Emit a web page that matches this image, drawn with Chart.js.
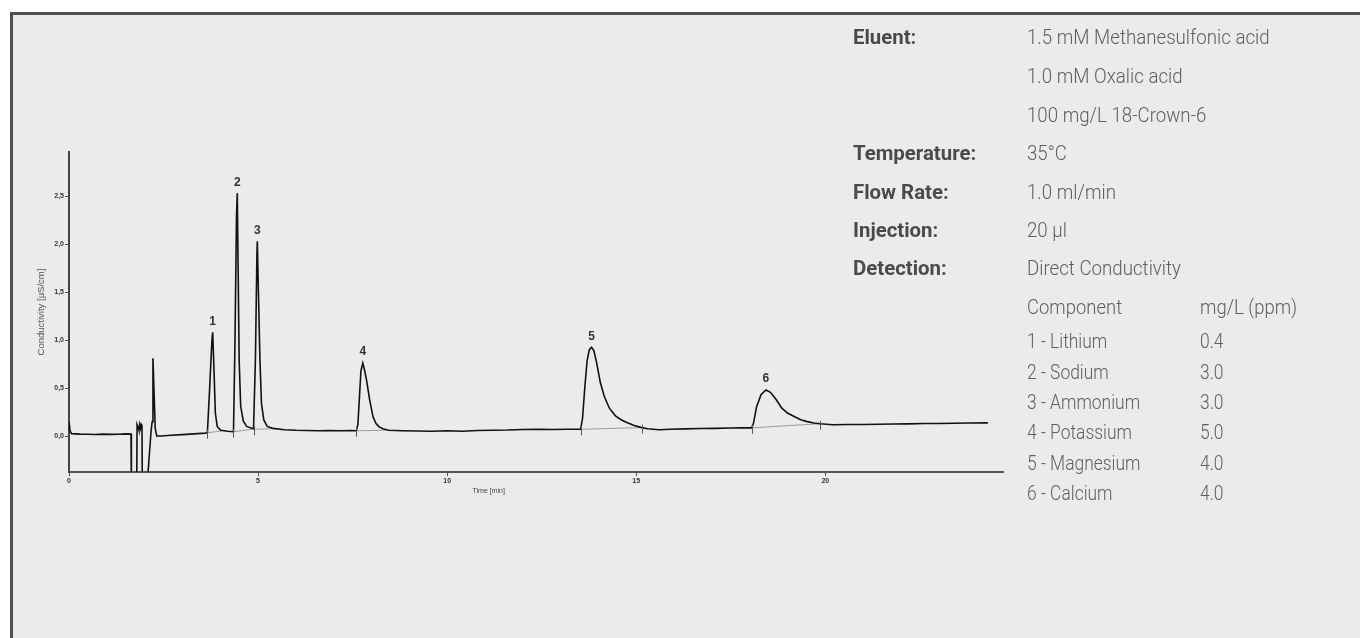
<!DOCTYPE html>
<html><head><meta charset="utf-8">
<script src="https://cdn.jsdelivr.net/npm/chart.js@4"></script>
<style>
html,body{margin:0;padding:0;background:#fff;width:1360px;height:638px;overflow:hidden;}
#panel{position:absolute;left:10px;top:12px;width:1350px;height:626px;background:#ebebed;border-top:3px solid #505050;border-left:3px solid #505050;box-sizing:border-box;}
#c{position:absolute;left:0;top:0;}
.t{position:absolute;font-family:Roboto,"Liberation Sans",sans-serif;font-size:21px;line-height:21px;white-space:nowrap;transform-origin:0 50%;}
.lab{font-weight:700;color:#4a4a4a;transform:scaleX(0.97);}
.val{font-weight:300;color:#5e5e5e;transform:scaleX(0.89);}
.hdr{font-weight:300;color:#5e5e5e;transform:scaleX(0.88);}
.row{font-weight:300;color:#5e5e5e;font-size:20px;line-height:20px;transform:scaleX(0.87);}
</style></head>
<body>
<div id="panel"></div>
<canvas id="c" width="1360" height="638"></canvas>
<div id="txt"></div>
<script>
// ---- data ----
const chromatogram = [
 [0.00,0.15],[0.03,0.05],[0.07,0.025],[0.30,0.02],[0.50,0.018],[0.70,0.016],[0.90,0.02],[1.10,0.017],[1.30,0.019],[1.50,0.022],[1.64,0.02],[1.65,-0.6],
 [1.79,-0.6],[1.80,0.12],[1.83,0.09],[1.85,0.06],[1.87,0.12],[1.89,0.08],[1.91,0.12],[1.93,0.10],[1.94,-0.6],
 [2.05,-0.6],[2.17,0.05],[2.20,0.15],[2.22,0.81],[2.25,0.45],[2.28,0.08],[2.32,0.0],[2.45,0.0],[2.70,0.008],[3.00,0.015],[3.30,0.022],[3.60,0.03],
 [3.66,0.035],[3.72,0.5],[3.78,1.0],[3.80,1.08],[3.84,0.62],[3.87,0.24],[3.92,0.10],[4.01,0.06],[4.20,0.05],[4.35,0.045],
 [4.39,1.0],[4.43,2.3],[4.45,2.53],[4.47,1.83],[4.50,0.79],[4.54,0.31],[4.61,0.155],[4.70,0.10],[4.83,0.08],
 [4.88,0.075],[4.93,0.8],[4.97,1.9],[4.98,2.03],[5.01,1.49],[5.05,0.79],[5.09,0.34],[5.15,0.17],[5.24,0.10],[5.39,0.08],
 [5.70,0.065],[6.00,0.06],[6.30,0.058],[6.60,0.055],[6.90,0.057],[7.20,0.055],[7.45,0.056],[7.60,0.055],
 [7.64,0.12],[7.68,0.4],[7.72,0.68],[7.77,0.76],[7.82,0.68],[7.87,0.58],[7.95,0.38],[8.04,0.20],[8.12,0.13],[8.20,0.095],[8.30,0.075],[8.45,0.06],
 [8.80,0.055],[9.20,0.052],[9.60,0.05],[10.00,0.055],[10.40,0.05],[10.80,0.058],[11.20,0.06],[11.60,0.062],[12.00,0.068],[12.40,0.07],[12.80,0.068],[13.20,0.07],[13.53,0.07],
 [13.58,0.18],[13.64,0.5],[13.70,0.78],[13.76,0.9],[13.82,0.925],[13.88,0.89],[13.95,0.77],[14.05,0.56],[14.15,0.42],[14.29,0.29],[14.45,0.21],[14.60,0.17],[14.75,0.14],[14.95,0.11],[15.12,0.09],[15.30,0.075],
 [15.60,0.065],[15.90,0.07],[16.30,0.074],[16.70,0.078],[17.10,0.08],[17.50,0.083],[17.80,0.085],[18.05,0.085],
 [18.10,0.13],[18.18,0.3],[18.30,0.43],[18.43,0.48],[18.55,0.455],[18.70,0.38],[18.85,0.29],[19.00,0.24],[19.19,0.2],[19.35,0.17],[19.52,0.15],[19.70,0.135],[19.86,0.128],
 [20.20,0.118],[20.60,0.12],[21.00,0.12],[21.40,0.123],[21.80,0.125],[22.20,0.127],[22.60,0.13],[23.00,0.131],[23.40,0.133],[23.80,0.135],[24.30,0.137]
];
const integrationBaselines = [
 [[3.66,0.035],[4.02,0.05]],
 [[4.35,0.045],[4.85,0.07]],
 [[4.88,0.07],[5.35,0.075]],
 [[7.60,0.055],[8.40,0.06]],
 [[13.53,0.07],[15.15,0.088]],
 [[18.05,0.085],[19.86,0.128]]
];
const integrationMarks = [[3.66,0.035],[4.35,0.045],[4.88,0.07],[7.60,0.055],[13.53,0.07],[15.15,0.088],[18.05,0.085],[19.86,0.128]];
const peakLabels = ["1","2","3","4","5","6"];
const peakTimes = [3.80,4.45,4.98,7.77,13.82,18.43];
const peakHeights = [1.08,2.53,2.03,0.76,0.925,0.48];
const xTicks = [0,5,10,15,20];
const xTickLabels = ["0","5","10","15","20"];
const yTicks = [0,0.5,1,1.5,2,2.5];
const yTickLabels = ["0,0","0,5","1,0","1,5","2,0","2,5"];
const xTitle = "Time [min]";
const yTitle = "Conductivity [µS/cm]";

const conditionLabels = ["Eluent:","","","Temperature:","Flow Rate:","Injection:","Detection:"];
const conditionValues = ["1.5 mM Methanesulfonic acid","1.0 mM Oxalic acid","100 mg/L 18-Crown-6","35°C","1.0 ml/min","20 µl","Direct Conductivity"];
const tableHeader = ["Component","mg/L (ppm)"];
const components = ["1 - Lithium","2 - Sodium","3 - Ammonium","4 - Potassium","5 - Magnesium","6 - Calcium"];
const concentrations = ["0.4","3.0","3.0","5.0","4.0","4.0"];

// ---- text panel ----
const txt = document.getElementById('txt');
function addText(s, x, baseline, cls, asc){
  const d = document.createElement('div');
  d.className = 't ' + cls; d.textContent = s;
  d.style.left = x + 'px'; d.style.top = (baseline - asc) + 'px';
  txt.appendChild(d);
}
const condBase = [45,83.3,122.3,161,199.3,237.7,276];
conditionLabels.forEach((s,i)=>{ if(s) addText(s,852.7,condBase[i],'lab',17.7); });
conditionValues.forEach((s,i)=>addText(s,1026.7,condBase[i],'val',17.7));
addText(tableHeader[0],1026.7,314.3,'hdr',17.7);
addText(tableHeader[1],1200,314.3,'hdr',17.7);
components.forEach((s,i)=>{
  const b = 348.3 + i*30.3;
  addText(s,1026.7,b,'row',16.9);
  addText(concentrations[i],1200,b,'row',16.9);
});

// ---- chart ----
const baselineData = [];
integrationBaselines.forEach(seg=>{ seg.forEach(p=>baselineData.push({x:p[0],y:p[1]})); baselineData.push({x:seg[1][0]+0.001,y:null}); });

const overlay = {
  id:'overlay',
  afterDatasetsDraw(chart){
    const {ctx, scales:{x,y}} = chart;
    ctx.save();
    ctx.strokeStyle = '#555'; ctx.lineWidth = 1;
    integrationMarks.forEach(m=>{
      const px = Math.round(x.getPixelForValue(m[0]))+0.5, py = y.getPixelForValue(m[1]);
      ctx.beginPath(); ctx.moveTo(px,py-3); ctx.lineTo(px,py+6); ctx.stroke();
    });
    ctx.fillStyle = '#333'; ctx.font = 'bold 12px "Liberation Sans", Arial, sans-serif';
    ctx.textAlign = 'center'; ctx.textBaseline = 'middle';
    peakLabels.forEach((l,i)=>{
      ctx.fillText(l, x.getPixelForValue(peakTimes[i]), y.getPixelForValue(peakHeights[i]) - 11);
    });
    ctx.fillStyle = '#444'; ctx.font = '7px "Liberation Sans", Arial, sans-serif';
    ctx.fillText(xTitle, x.getPixelForValue(11.1), y.bottom + 19);
    ctx.restore();
  }
};

new Chart(document.getElementById('c'), {
  type:'line',
  data:{datasets:[
    {data:chromatogram.map(p=>({x:p[0],y:p[1]})), borderColor:'#111', borderWidth:1.6, pointRadius:0, tension:0, order:0},
    {data:baselineData, borderColor:'#8a8a8a', borderWidth:0.8, pointRadius:0, tension:0, spanGaps:false, order:1}
  ]},
  options:{
    responsive:false, animation:false, devicePixelRatio:1,
    layout:{padding:{left:0,top:152,right:357,bottom:136}},
    plugins:{legend:{display:false},tooltip:{enabled:false}},
    scales:{
      x:{type:'linear',min:0,max:24.7,
        afterBuildTicks:s=>{s.ticks = xTicks.map(v=>({value:v}));},
        afterFit:s=>{s.height=30;},
        grid:{display:true,drawOnChartArea:false,drawTicks:true,tickLength:4,color:'#555',lineWidth:1},
        border:{display:true,color:'#555',width:2},
        ticks:{font:{family:'"Liberation Sans", Arial',size:7,weight:'bold'},color:'#333',padding:1,maxRotation:0,autoSkip:false,
          callback:(v,i)=>xTickLabels[i]}
      },
      y:{type:'linear',min:-0.375,max:2.96,
        afterBuildTicks:s=>{s.ticks = yTicks.map(v=>({value:v}));},
        afterFit:s=>{s.width=69;},
        grid:{display:true,drawOnChartArea:false,drawTicks:true,tickLength:4,color:'#555',lineWidth:1},
        border:{display:true,color:'#444',width:2},
        ticks:{font:{family:'"Liberation Sans", Arial',size:7,weight:'bold'},color:'#333',padding:1,autoSkip:false,
          callback:(v,i)=>yTickLabels[i]},
        title:{display:true,text:yTitle,font:{family:'"Liberation Sans", Arial',size:9.5},color:'#555',padding:{top:36,bottom:0}}
      }
    }
  },
  plugins:[overlay]
});
</script>
</body></html>
